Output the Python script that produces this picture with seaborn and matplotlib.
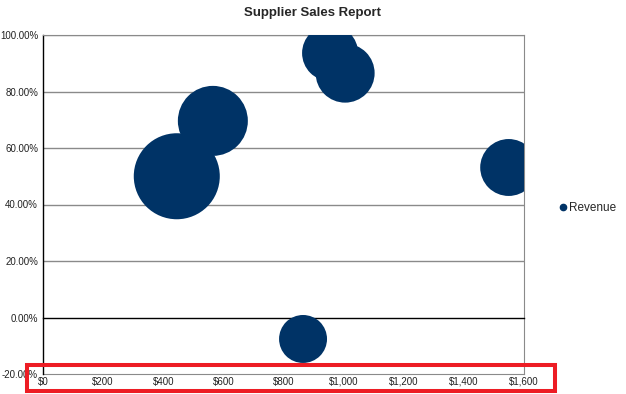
import matplotlib
matplotlib.use("Agg")
import matplotlib.pyplot as plt
import seaborn as sns
import pandas as pd
from matplotlib.patches import Rectangle
from matplotlib.lines import Line2D
from matplotlib.ticker import FuncFormatter

# ---- data ----
sales = [445, 565, 955, 1005, 1549, 865]          # x: sales ($)
margin = [50.0, 69.6, 93.6, 86.5, 53.1, -7.6]     # y: percent
revenue = [1850, 1225, 785, 870, 810, 575]        # bubble size
x_ticks = [0, 200, 400, 600, 800, 1000, 1200, 1400, 1600]
y_ticks = [-20, 0, 20, 40, 60, 80, 100]
title = "Supplier Sales Report"
series_name = "Revenue"

df = pd.DataFrame({"sales": sales, "margin": margin, "revenue": revenue})

sns.set_style("white")
plt.rcParams["font.family"] = ["Liberation Sans", "DejaVu Sans"]

W, H = 626, 394
fig = plt.figure(figsize=(W / 100, H / 100), dpi=100)
ax = fig.add_axes([43 / W, 1 - 374 / H, (524 - 43) / W, (374 - 35) / H])

navy = "#003366"
grid_c = "#8a8a8a"

# bubble area proportional to revenue (s in pt^2)
k = 2.0736
sns.scatterplot(data=df, x="sales", y="margin", size="revenue",
                sizes=(k * min(revenue), k * max(revenue)),
                color=navy, edgecolor="none", linewidth=0,
                legend=False, ax=ax, zorder=3)

ax.set_xlim(0, 1600)
ax.set_ylim(-20, 100)
ax.set_xlabel("")
ax.set_ylabel("")

# horizontal gridlines
for v in y_ticks:
    if v not in (0, -20):
        ax.axhline(v, color=grid_c, lw=1, zorder=1)

# y axis
ax.set_yticks(y_ticks)
ax.yaxis.set_major_formatter(FuncFormatter(lambda v, p: f"{v:.2f}%"))
ax.tick_params(axis="y", direction="out", length=3, width=1, color="black",
               labelsize=7, pad=0.5, labelcolor="#222222")
ax.spines["left"].set_color("black")
ax.spines["left"].set_linewidth(1)
ax.spines["right"].set_color(grid_c)
ax.spines["top"].set_color(grid_c)

# primary x axis sits at y=0 with tick marks, no labels
ax.set_xticks(x_ticks)
ax.spines["bottom"].set_position(("data", 0))
ax.spines["bottom"].set_color("black")
ax.spines["bottom"].set_linewidth(1)
ax.tick_params(axis="x", direction="out", length=4, width=1, color="black",
               labelbottom=False)

# secondary x axis at the bottom carrying the labels
sec = ax.secondary_xaxis("bottom")
sec.set_xticks(x_ticks)
sec.xaxis.set_major_formatter(FuncFormatter(lambda v, p: f"${v:,.0f}"))
sec.tick_params(length=0, labelsize=7, pad=2, labelcolor="#222222")
sec.spines["bottom"].set_color(grid_c)

fig.text(313 / W, 1 - 13 / H, title, ha="center", va="center",
         fontsize=9.5, fontweight="bold")

handle = Line2D([], [], marker="o", linestyle="none", color=navy,
                markersize=4.5)
fig.legend([handle], [series_name], loc="center left",
           bbox_to_anchor=(559 / W, 1 - 208 / H), frameon=False,
           fontsize=8.5, handlelength=0.6, handletextpad=0.25,
           borderpad=0, borderaxespad=0)

# red highlight box around x-axis labels
fig.patches.append(Rectangle((27 / W, 1 - 391 / H), (555 - 27) / W,
                             (391 - 365) / H, fill=False, ec="#ED1C24",
                             lw=2.9, transform=fig.transFigure,
                             figure=fig, zorder=10))

fig.savefig("out.png", dpi=100)
